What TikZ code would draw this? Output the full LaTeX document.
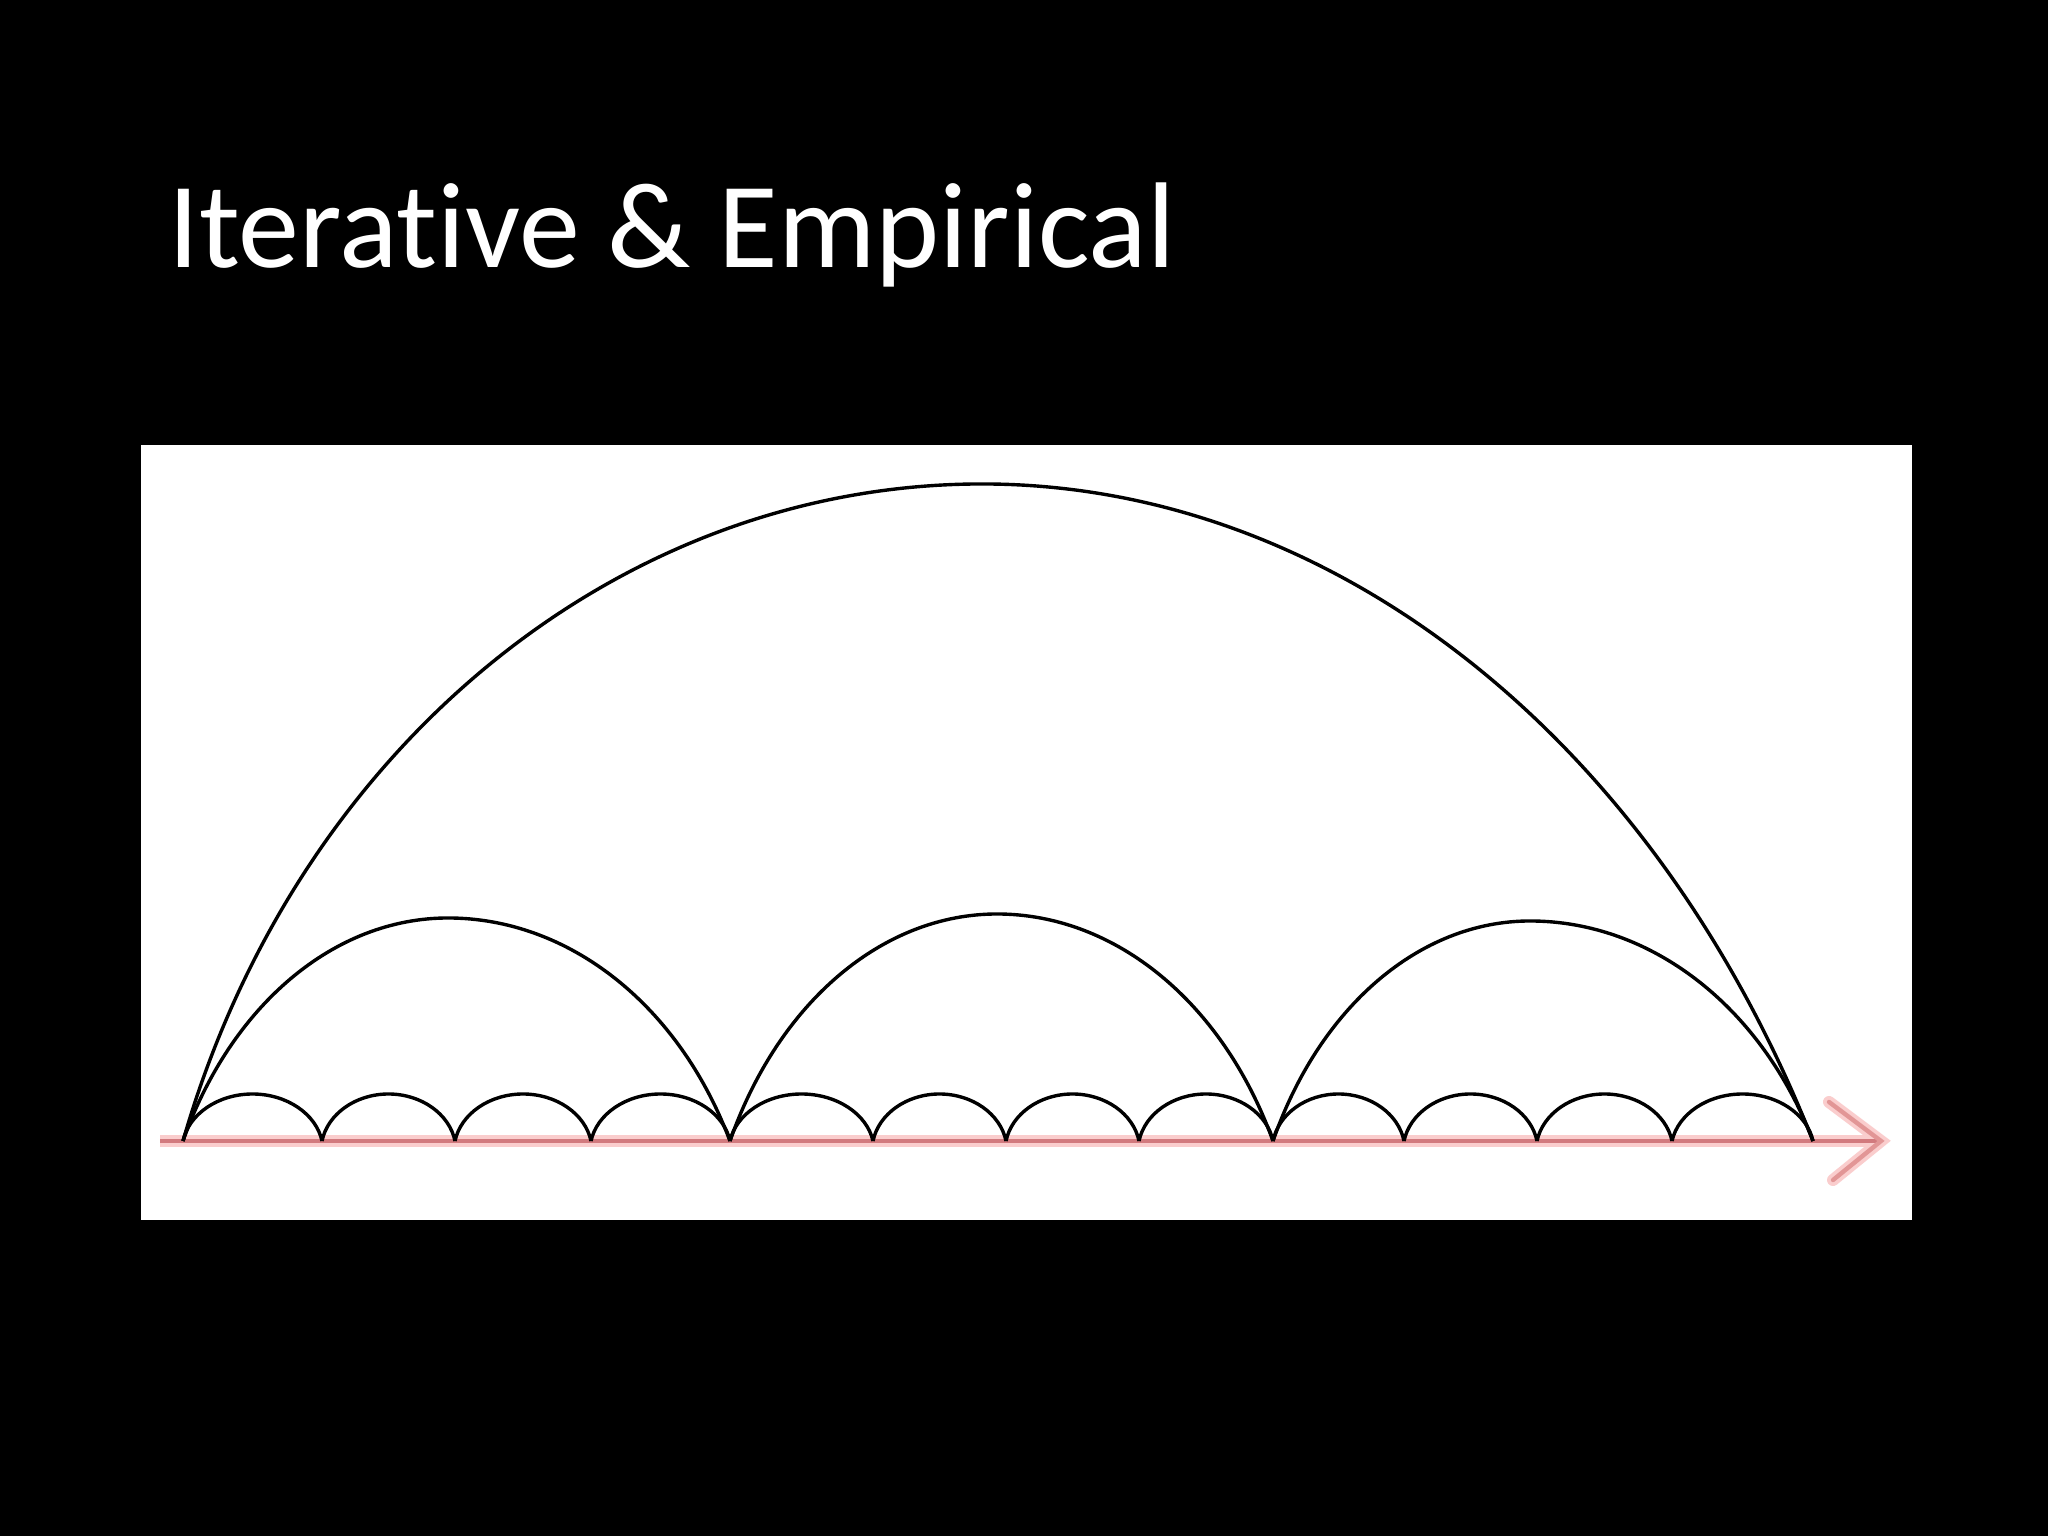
\documentclass[tikz,border=0pt]{standalone}
\usepackage{fontspec}
\setmainfont{Carlito}[Ligatures=NoCommon]
\definecolor{axisdark}{RGB}{210,122,126}
\definecolor{axislight}{RGB}{250,205,205}
\definecolor{arrowpink}{RGB}{226,150,150}
\newcommand\hump[6]{%
  \pgfmathsetmacro\hAL{(#2)/cos(#5)}%
  \pgfmathsetmacro\hBL{(#4)/(1-sin(#5))}%
  \pgfmathsetmacro\hAR{(#3)/cos(#6)}%
  \pgfmathsetmacro\hBR{(#4)/(1-sin(#6))}%
  \draw[arcline] (#1) arc[start angle={180-#5}, end angle=90, x radius=\hAL, y radius=\hBL]
    arc[start angle=90, end angle={#6}, x radius=\hAR, y radius=\hBR];%
}
\begin{document}
\begin{tikzpicture}[x=0.5pt,y=0.5pt,
  arcline/.style={draw=black,line width=1.7pt},
  axishalo/.style={draw=axislight,line width=6pt},
  axiscore/.style={draw=axisdark,line width=2.4pt},
  arrowarm/.style={draw=arrowpink,line width=2.2pt,line cap=round,line join=miter},
  titletext/.style={text=white,font=\fontsize{61}{70}\selectfont,anchor=base west,inner sep=0pt}]
\fill[black] (0,0) rectangle (2048,1536);
\useasboundingbox (0,0) rectangle (2048,1536);
\fill[white] (141,316) rectangle (1912,1091);
\node[titletext] (title) at (168,1268) {Iterative \& Empirical};
% axis
\coordinate (start) at (160,395);
\coordinate (tip) at (1881,395);
\coordinate (armU) at (1829,434);
\coordinate (armL) at (1833,356);
\draw[axishalo] (start) -- (tip);
\draw[axishalo,line cap=round] (armU) -- (tip) -- (armL);
\draw[axiscore] (start) -- (tip);
\draw[arrowarm] (armU) -- (tip) -- (armL);
% base points
\foreach \i/\x in {0/183,1/322,2/455,3/591,4/730,5/873,6/1006,7/1139,8/1273,9/1404,10/1537,11/1672,12/1813}
  \coordinate (p\i) at (\x,395);
% big arc
\hump{p0}{799}{831}{657}{18}{27}
% medium arcs
\hump{p0}{265}{282}{223}{25}{25}
\hump{p4}{267}{276}{227}{25}{25}
\hump{p8}{257}{283}{220}{25}{25}
% small arcs
\foreach \i/\w in {0/139,1/133,2/136,3/139,4/143,5/133,6/133,7/134,8/131,9/133,10/135,11/141}
  {\hump{p\i}{\w/2}{\w/2}{47}{10}{10}}
\end{tikzpicture}
\end{document}
